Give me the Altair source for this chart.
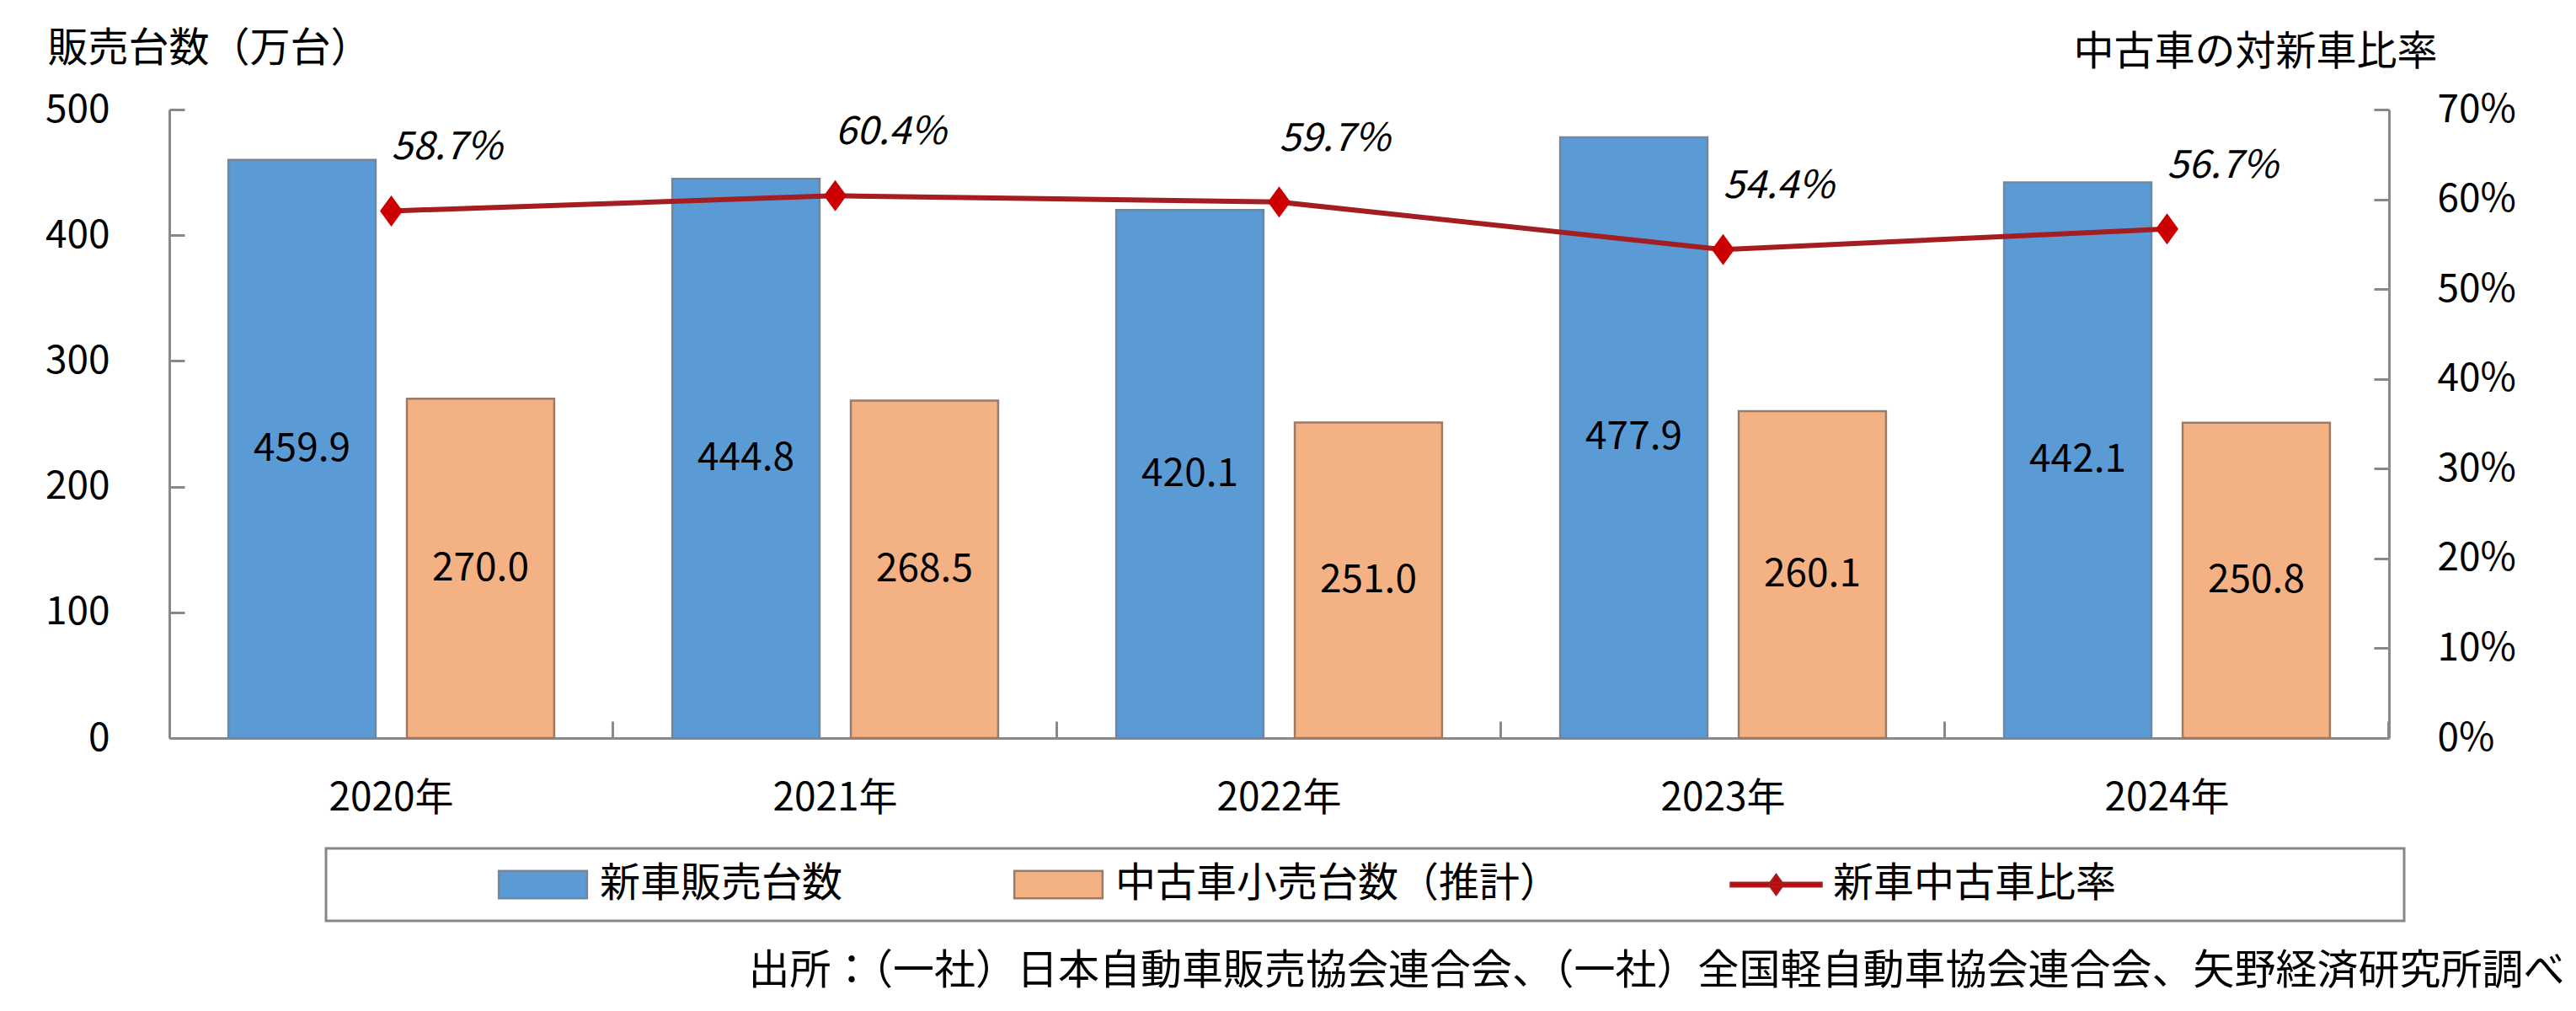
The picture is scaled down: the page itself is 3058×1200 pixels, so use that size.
import pandas as pd
import altair as alt

# data
years = ["2020年", "2021年", "2022年", "2023年", "2024年"]
new_sales = [459.9, 444.8, 420.1, 477.9, 442.1]
used_sales = [270.0, 268.5, 251.0, 260.1, 250.8]
used_ratio = [0.587, 0.604, 0.597, 0.544, 0.567]

SERIES = ["新車販売台数", "中古車小売台数（推計）", "新車中古車比率"]
left_ticks = [0, 100, 200, 300, 400, 500]
right_ticks = [0, 0.1, 0.2, 0.3, 0.4, 0.5, 0.6, 0.7]
source_note = "出所：（一社）日本自動車販売協会連合会、（一社）全国軽自動車協会連合会、矢野経済研究所調べ"

FONT = "Noto Sans CJK JP"
BLUE, ORANGE = "#5B9BD5", "#F4B183"
BLUE_EDGE, ORANGE_EDGE = "#72879C", "#9B7B67"
LINE_RED, DOT_RED = "#A31E22", "#CC0000"
AXIS_GREY = "#898989"

# legend keys: wide boxes for the bars, line + diamond for the ratio,
# plus an empty trailing entry that only widens the legend frame
KEY_BOX = "M-0.97,-0.3H0.97V0.3H-0.97Z"
KEY_LINE = "M-1,-0.04H1V0.04H-1ZM0,-0.22L0.16,0L0,0.22L-0.16,0Z"
KEY_NONE = "M1.22,0"
DIAMOND = "M0,-1L0.73,0L0,1L-0.73,0Z"
LEGEND_DOMAIN = SERIES + ["_"]

bars_df = pd.DataFrame({
    "year": years * 2,
    "series": [SERIES[0]] * len(years) + [SERIES[1]] * len(years),
    "value": new_sales + used_sales,
})
ratio_df = pd.DataFrame({"year": years, "ratio": used_ratio, "series": [SERIES[2]] * len(years)})

legend = alt.Legend(
    orient="none", legendX=186, legendY=877, direction="horizontal", columns=4,
    columnPadding=200, padding=18, strokeColor="#878787", fillColor="white",
    labelFontSize=48, labelColor="black", labelOffset=12, labelLimit=1000,
    labelExpr="datum.label == '_' ? '' : datum.label",
    symbolSize=11664, symbolStrokeWidth=2.5, symbolOpacity=1, clipHeight=50,
    title="　", titleOrient="left", titlePadding=184, titleFontSize=47,
)

x_enc = alt.X(
    "year:N",
    sort=years,
    scale=alt.Scale(paddingInner=0.266, paddingOuter=0.133),
    axis=alt.Axis(
        labelAngle=0, labelFontSize=46, labelColor="black", labelPadding=49,
        domainColor=AXIS_GREY, domainWidth=3, ticks=False,
        # short inward ticks between the years, drawn as clipped grid lines
        grid=True, bandPosition=1.181, gridColor=AXIS_GREY, gridWidth=3,
        gridDash=[20, 726], gridDashOffset=20,
        title=source_note, titleFontSize=49, titleFontWeight="normal", titleColor="black",
        titleAlign="right", titleBaseline="middle", titleX=2843, titleY=276,
    ),
)
xoff_enc = alt.XOffset("series:N", sort=SERIES[:2],
                       scale=alt.Scale(paddingInner=0.175, paddingOuter=0))

y_left = alt.Y(
    "value:Q",
    scale=alt.Scale(domain=[0, 500], nice=False),
    axis=alt.Axis(
        values=left_ticks, labelFontSize=46, labelColor="black",
        labelPadding=71, labelOverlap=False,
        domainColor=AXIS_GREY, domainWidth=3, ticks=False,
        grid=True, gridColor=AXIS_GREY, gridWidth=3, gridDash=[18, 5000],
        title="販売台数（万台）", titleAngle=0, titleFontSize=48, titleFontWeight="normal",
        titleColor="black", titleAlign="left", titleBaseline="middle",
        titleX=-145, titleY=-72,
    ),
)

bars = alt.Chart(bars_df).mark_bar(strokeWidth=2.5).encode(
    x=x_enc,
    xOffset=xoff_enc,
    y=y_left,
    color=alt.Color("series:N",
                    scale=alt.Scale(domain=LEGEND_DOMAIN, range=[BLUE, ORANGE, DOT_RED, "white"]),
                    legend=legend),
    stroke=alt.Stroke("series:N",
                      scale=alt.Scale(domain=LEGEND_DOMAIN,
                                      range=[BLUE_EDGE, ORANGE_EDGE, LINE_RED, "white"]),
                      legend=legend),
)

bar_labels = alt.Chart(bars_df).transform_calculate(
    mid="datum.value / 2"
).mark_text(fontSize=46, color="black", baseline="middle").encode(
    x=alt.X("year:N", sort=years),
    xOffset=xoff_enc,
    y=alt.Y("mid:Q"),
    text=alt.Text("value:Q", format=".1f"),
)

y_right = alt.Y(
    "ratio:Q",
    scale=alt.Scale(domain=[0, 0.7], nice=False),
    axis=alt.Axis(
        orient="right", values=right_ticks, format=".0%",
        labelFontSize=46, labelColor="black", labelAlign="left", labelPadding=57,
        labelOverlap=False,
        domainColor=AXIS_GREY, domainWidth=3, ticks=False,
        grid=True, gridColor=AXIS_GREY, gridWidth=3, gridDash=[18, 5000],
        title="中古車の対新車比率", titleAngle=0, titleFontSize=48, titleFontWeight="normal",
        titleColor="black", titleAlign="right", titleBaseline="middle",
        titleX=57, titleY=-68,
    ),
)

ratio_line = alt.Chart(ratio_df).mark_line(color=LINE_RED, strokeWidth=6).encode(
    x=alt.X("year:N", sort=years),
    y=y_right,
)
ratio_points = alt.Chart(ratio_df).mark_point(
    shape=DIAMOND, filled=True, size=1369, color=DOT_RED, opacity=1
).encode(
    x=alt.X("year:N", sort=years),
    y=alt.Y("ratio:Q"),
)
# draws nothing, only carries the shape scale for the merged legend
legend_keys = alt.Chart(ratio_df).transform_filter("false").mark_point(filled=True).encode(
    x=alt.X("year:N", sort=years),
    y=alt.Y("ratio:Q"),
    shape=alt.Shape("series:N",
                    scale=alt.Scale(domain=LEGEND_DOMAIN,
                                    range=[KEY_BOX, KEY_BOX, KEY_LINE, KEY_NONE]),
                    legend=legend),
)
ratio_labels = alt.Chart(ratio_df).mark_text(
    fontSize=46, fontStyle="italic", color="black", align="left", baseline="middle", dy=-75
).encode(
    x=alt.X("year:N", sort=years),
    y=alt.Y("ratio:Q"),
    text=alt.Text("ratio:Q", format=".1%"),
)

chart = alt.layer(
    alt.layer(bars, bar_labels),
    alt.layer(ratio_line, ratio_points, ratio_labels, legend_keys),
).resolve_scale(
    y="independent"
).properties(
    width=2635,
    height=746,
    autosize=alt.AutoSizeParams(type="none"),
    padding={"left": 193, "top": 122, "right": 212, "bottom": 312},
).configure(
    font=FONT,
).configure_view(
    stroke=None
).configure_legend(
    strokeWidth=3
)

chart.save("out.html", embed_options={"renderer": "svg", "actions": False})
